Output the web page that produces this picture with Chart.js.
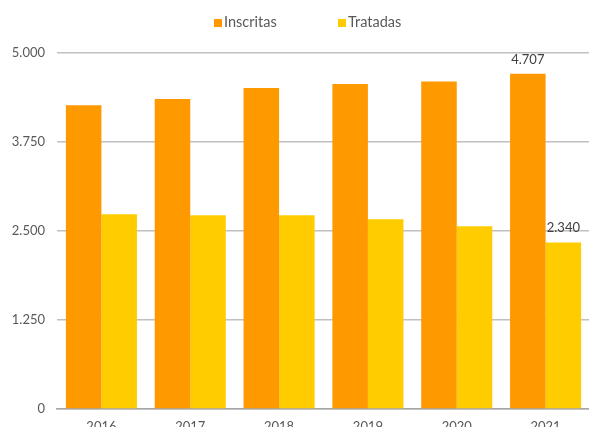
<!DOCTYPE html>
<html>
<head>
<meta charset="utf-8">
<script src="https://cdn.jsdelivr.net/npm/chart.js@4/dist/chart.umd.min.js"></script>
<style>
  html, body { margin: 0; padding: 0; background: #fff; overflow: hidden; }
  #wrap { position: relative; width: 589px; height: 427px; overflow: hidden; }
  #chart { position: absolute; left: 0; top: 0; }
  .legend { position: absolute; top: 13px; font: 14.5px Lato, sans-serif; color: #595959; white-space: nowrap; }
  .legend i { display: inline-block; width: 8px; height: 8px; margin-right: 2px; vertical-align: 0px; }
</style>
</head>
<body>
<div id="wrap">
  <canvas id="chart" width="590" height="440"></canvas>
  <div class="legend" style="left:214px"><i style="background:#ff9900"></i>Inscritas</div>
  <div class="legend" style="left:338px"><i style="background:#ffcc00"></i>Tratadas</div>
</div>
<script>
'use strict';

var years = ['2016', '2017', '2018', '2019', '2020', '2021'];
var inscritas = [4266, 4355, 4509, 4565, 4598, 4707];
var tratadas = [2736, 2722, 2722, 2666, 2568, 2340];
var yTicks = [0, 1250, 2500, 3750, 5000];

var fontFamily = 'Lato, sans-serif';
var textColor = '#595959';

function fmt(v) {
  return String(v).replace(/\B(?=(\d{3})+(?!\d))/g, '.');
}

// value labels only on the last year, like the original
var lastLabels = {
  id: 'lastLabels',
  afterDatasetsDraw: function(chart) {
    var ctx = chart.ctx;
    var last = years.length - 1;
    ctx.save();
    ctx.font = '13px ' + fontFamily;
    ctx.fillStyle = '#404040';
    ctx.textAlign = 'center';
    ctx.textBaseline = 'alphabetic';
    chart.data.datasets.forEach(function(ds, i) {
      var bar = chart.getDatasetMeta(i).data[last];
      ctx.fillText(fmt(ds.data[last]), bar.x, bar.y - 10);
    });
    ctx.restore();
  }
};

new Chart(document.getElementById('chart'), {
  type: 'bar',
  data: {
    labels: years,
    datasets: [
      { label: 'Inscritas', data: inscritas, backgroundColor: '#ff9900' },
      { label: 'Tratadas', data: tratadas, backgroundColor: '#ffcc00' }
    ]
  },
  options: {
    responsive: false,
    animation: false,
    layout: { padding: { top: 53, right: 0, bottom: 0, left: 0 } },
    datasets: { bar: { categoryPercentage: 0.8, barPercentage: 1.0 } },
    plugins: {
      legend: { display: false },
      tooltip: { enabled: false }
    },
    scales: {
      x: {
        grid: { display: false, drawTicks: false },
        border: { display: true, color: '#a6a6a6', width: 1.5 },
        ticks: { color: textColor, font: { family: fontFamily, size: 13 }, padding: 10 },
        afterFit: function(scale) { scale.height = 31; }
      },
      y: {
        min: 0,
        max: 5000,
        afterBuildTicks: function(scale) {
          scale.ticks = yTicks.map(function(v) { return { value: v }; });
        },
        grid: { color: '#c0c0c0', lineWidth: 1.5, drawTicks: false },
        border: { display: false },
        ticks: {
          color: textColor,
          font: { family: fontFamily, size: 13 },
          padding: 12,
          callback: function(v) { return fmt(v); }
        },
        afterFit: function(scale) { scale.width = 57; }
      }
    }
  },
  plugins: [lastLabels]
});
</script>
</body>
</html>
